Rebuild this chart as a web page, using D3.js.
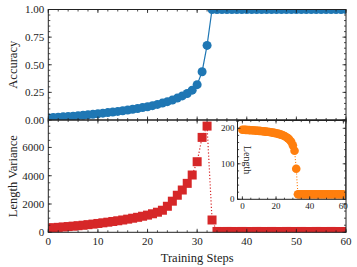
<!DOCTYPE html>
<html>
<head>
<meta charset="utf-8">
<script src="https://cdn.jsdelivr.net/npm/d3@7"></script>
<style>
  body { margin: 0; background: #fff; }
  text { font-family: "Liberation Serif", "DejaVu Serif", serif; fill: #222; }
</style>
</head>
<body>
<div id="chart"></div>
<script>
// Training dynamics: accuracy, length variance, and (inset) length

var steps = d3.range(0, 61);

var accuracy = [0.020, 0.023, 0.026, 0.029, 0.032, 0.035, 0.039, 0.043, 0.047, 0.052,
  0.057, 0.062, 0.067, 0.072, 0.078, 0.084, 0.090, 0.097, 0.104, 0.112,
  0.120, 0.130, 0.141, 0.153, 0.166, 0.180, 0.198, 0.218, 0.240, 0.270,
  0.320, 0.437, 0.675, 1, 1, 1, 1, 1, 1, 1,
  1, 1, 1, 1, 1, 1, 1, 1, 1, 1,
  1, 1, 1, 1, 1, 1, 1, 1, 1, 1, 1];

var variance = [300, 325, 350, 375, 405, 435, 465, 500, 540, 580,
  625, 670, 715, 765, 815, 870, 930, 995, 1060, 1135,
  1215, 1310, 1420, 1560, 1840, 2200, 2620, 2990, 3460, 4050,
  4990, 6710, 7510, 870, 60, 55, 60, 58, 55, 60,
  57, 55, 60, 58, 56, 60, 57, 55, 60, 58,
  56, 60, 57, 55, 60, 58, 56, 60, 57, 55, 58];

var lengths = [196, 195.8, 195.6, 195.3, 195, 194.7, 194.4, 194, 193.6, 193.2,
  192.8, 192.3, 191.8, 191.3, 190.7, 190.1, 189.4, 188.7, 187.9, 187,
  186, 184.9, 183.6, 182.1, 180.3, 178.2, 175.6, 172.3, 168, 162,
  152, 137, 86, 14, 14, 14, 14, 14, 14, 14,
  14, 14, 14, 14, 14, 14, 14, 14, 14, 14,
  14, 14, 14, 14, 14, 14, 14, 14, 14, 14, 14];

var accTicks = [0, 0.25, 0.5, 0.75, 1.0];
var varTicks = [0, 2000, 4000, 6000];
var stepTicks = [0, 10, 20, 30, 40, 50, 60];
var insetXTicks = [0, 20, 40, 60];
var insetYTicks = [0, 100, 200];

var W = 357, H = 267;
var pL = 48.3, pR = 346, pT = 9.5, pM = 120, pB = 232.3;

var svg = d3.select("#chart").append("svg")
    .attr("width", W).attr("height", H);

var x = d3.scaleLinear().domain([0, 60]).range([pL, pR]);
var yAcc = d3.scaleLinear().domain([0, 1]).range([pM, pT]);
var yVar = d3.scaleLinear().domain([0, 7940]).range([pB, pM]);

var ix = d3.scaleLinear().domain([-2.9, 61.4]).range([237.5, 345.7]);
var iy = d3.scaleLinear().domain([0, 222]).range([199.3, 120.5]);

// draw a box with inward ticks on all four sides
function frame(g, xs, ys, o) {
  var x0 = xs.range()[0], x1 = xs.range()[1];
  var y0 = ys.range()[0], y1 = ys.range()[1];
  var maj = o.maj || 3.5, mn = o.mn || 2;

  function xticks(vals, len) {
    vals.forEach(function(v) {
      var px = xs(v);
      if (px < x0 - 0.1 || px > x1 + 0.1) return;
      g.append("line").attr("x1", px).attr("x2", px).attr("y1", y0).attr("y2", y0 - len).attr("stroke", "#222").attr("stroke-width", 0.8);
      g.append("line").attr("x1", px).attr("x2", px).attr("y1", y1).attr("y2", y1 + len).attr("stroke", "#222").attr("stroke-width", 0.8);
    });
  }
  function yticks(vals, len) {
    vals.forEach(function(v) {
      var py = ys(v);
      if (py > y0 + 0.1 || py < y1 - 0.1) return;
      g.append("line").attr("y1", py).attr("y2", py).attr("x1", x0).attr("x2", x0 + len).attr("stroke", "#222").attr("stroke-width", 0.8);
      g.append("line").attr("y1", py).attr("y2", py).attr("x1", x1).attr("x2", x1 - len).attr("stroke", "#222").attr("stroke-width", 0.8);
    });
  }
  xticks(o.xMinor, mn); xticks(o.xTicks, maj);
  yticks(o.yMinor, mn); yticks(o.yTicks, maj);

  g.append("rect").attr("x", x0).attr("y", y1).attr("width", x1 - x0).attr("height", y0 - y1)
    .attr("fill", "none").attr("stroke", "#222").attr("stroke-width", 1);

  if (o.yFmt) {
    g.selectAll(null).data(o.yTicks).enter().append("text")
      .attr("x", x0 - o.pad).attr("y", function(d) { return ys(d); })
      .attr("dy", "0.35em").attr("text-anchor", "end")
      .style("font-size", o.fs + "px").text(o.yFmt);
  }
  if (o.xFmt) {
    g.selectAll(null).data(o.xTicks).enter().append("text")
      .attr("x", function(d) { return xs(d); }).attr("y", y0 + o.pad)
      .attr("dy", "0.75em").attr("text-anchor", "middle")
      .style("font-size", o.fs + "px").text(o.xFmt);
  }
}

// clip paths
var defs = svg.append("defs");
defs.append("clipPath").attr("id", "clipTop").append("rect")
    .attr("x", pL).attr("y", pT).attr("width", pR - pL).attr("height", pM - pT);
defs.append("clipPath").attr("id", "clipBot").append("rect")
    .attr("x", pL).attr("y", pM).attr("width", pR - pL).attr("height", pB - pM);
defs.append("clipPath").attr("id", "clipIn").append("rect")
    .attr("x", ix.range()[0]).attr("y", iy.range()[1]).attr("width", ix.range()[1] - ix.range()[0]).attr("height", iy.range()[0] - iy.range()[1]);

var blue = "#1f77b4", red = "#d62728", orange = "#ff7f0e";

// top: accuracy
var gTop = svg.append("g").attr("clip-path", "url(#clipTop)");
gTop.append("path").datum(accuracy)
    .attr("fill", "none").attr("stroke", blue).attr("stroke-width", 1.2)
    .attr("d", d3.line().x(function(d, i) { return x(steps[i]); }).y(function(d) { return yAcc(d); }));
gTop.selectAll("circle").data(accuracy).enter().append("circle")
    .attr("cx", function(d, i) { return x(steps[i]); })
    .attr("cy", function(d) { return yAcc(d); })
    .attr("r", 4.5).attr("fill", blue);

// bottom: variance
var gBot = svg.append("g").attr("clip-path", "url(#clipBot)");
gBot.append("path").datum(variance)
    .attr("fill", "none").attr("stroke", red).attr("stroke-width", 1.2).attr("stroke-dasharray", "1.2,2")
    .attr("d", d3.line().x(function(d, i) { return x(steps[i]); }).y(function(d) { return yVar(d); }));
gBot.selectAll("rect").data(variance).enter().append("rect")
    .attr("x", function(d, i) { return x(steps[i]) - 4.5; })
    .attr("y", function(d) { return yVar(d) - 4.5; })
    .attr("width", 9).attr("height", 9).attr("fill", red);

var stepMinor = d3.range(0, 61, 2);
frame(svg.append("g"), x, yAcc, {
  xTicks: stepTicks, xMinor: stepMinor,
  yTicks: accTicks, yMinor: d3.range(0, 1.001, 0.05),
  yFmt: d3.format(".2f"), pad: 4, fs: 11
});
frame(svg.append("g"), x, yVar, {
  xTicks: stepTicks, xMinor: stepMinor,
  yTicks: varTicks, yMinor: d3.range(0, 8000, 500),
  yFmt: function(d) { return d; }, xFmt: function(d) { return d; }, pad: 4, fs: 11
});

// inset: length
var gIn = svg.append("g");
gIn.append("rect").attr("x", ix.range()[0]).attr("y", iy.range()[1])
    .attr("width", ix.range()[1] - ix.range()[0]).attr("height", iy.range()[0] - iy.range()[1])
    .attr("fill", "#fff");
var gInC = gIn.append("g").attr("clip-path", "url(#clipIn)");
gInC.append("path").datum(lengths)
    .attr("fill", "none").attr("stroke", orange).attr("stroke-width", 1.1).attr("stroke-dasharray", "1.1,1.8")
    .attr("d", d3.line().x(function(d, i) { return ix(steps[i]); }).y(function(d) { return iy(d); }));
gInC.selectAll("circle").data(lengths).enter().append("circle")
    .attr("cx", function(d, i) { return ix(steps[i]); })
    .attr("cy", function(d) { return iy(d); })
    .attr("r", 4.3).attr("fill", orange);
frame(gIn, ix, iy, {
  xTicks: insetXTicks, xMinor: d3.range(0, 61, 5),
  yTicks: insetYTicks, yMinor: d3.range(0, 221, 20),
  yFmt: function(d) { return d; }, xFmt: function(d) { return d; }, pad: 3, fs: 9, maj: 3, mn: 1.6
});
gIn.append("text")
    .attr("transform", "translate(247.3,160) rotate(90)")
    .attr("text-anchor", "middle").attr("dy", "0.35em")
    .style("font-size", "10px").text("Length");

// axis labels
svg.append("text").attr("transform", "translate(13," + ((pT + pM) / 2) + ") rotate(-90)")
    .attr("text-anchor", "middle").attr("dy", "0.35em").style("font-size", "12.5px").text("Accuracy");
svg.append("text").attr("transform", "translate(13," + ((pM + pB) / 2) + ") rotate(-90)")
    .attr("text-anchor", "middle").attr("dy", "0.35em").style("font-size", "12.5px").text("Length Variance");
svg.append("text").attr("x", (pL + pR) / 2).attr("y", 258)
    .attr("text-anchor", "middle").attr("dy", "0.35em").style("font-size", "12.5px").text("Training Steps");
</script>
</body>
</html>
